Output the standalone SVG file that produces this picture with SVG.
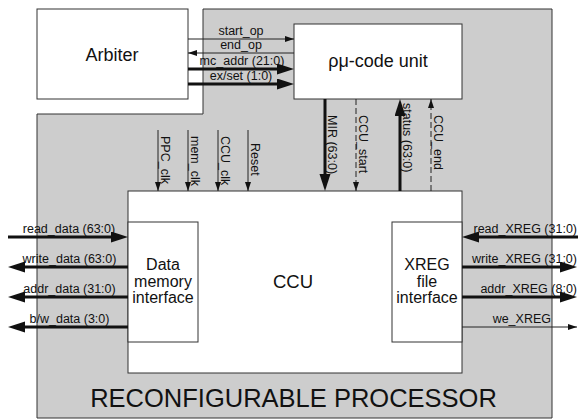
<svg xmlns="http://www.w3.org/2000/svg" width="578" height="419" viewBox="0 0 578 419">
<style>
text{font-family:"Liberation Sans",Arial,sans-serif;fill:#111}
.lbl{font-size:12.5px}
.box{fill:#fff;stroke:#333;stroke-width:1}
.thin{stroke:#222;stroke-width:1;fill:none}
.thick{stroke:#111;stroke-width:3;fill:none}
.dash{stroke:#222;stroke-width:1;fill:none;stroke-dasharray:6 3}
.big{font-size:18px}
.mid{font-size:16px}
</style>
<defs>
<marker id="bh" markerUnits="userSpaceOnUse" markerWidth="17" markerHeight="12" refX="10" refY="5.5" orient="auto"><path d="M0,0 L17,5.5 L0,11 z" fill="#111"/></marker>
<marker id="sh" markerUnits="userSpaceOnUse" markerWidth="10" markerHeight="7" refX="9" refY="3" orient="auto"><path d="M0,0 L9,3 L0,6 z" fill="#111"/></marker>
</defs>
<g id="processor">
<polygon points="203,9 552,9 552,418 37,418 37,114 203,114" fill="#cdcdcd" stroke="#333" stroke-width="1"/>
<text x="293.5" y="407" text-anchor="middle" font-size="25.5">RECONFIGURABLE PROCESSOR</text>
</g>
<g id="arbiter">
<rect class="box" x="37" y="9" width="151" height="90"/>
<text class="big" x="112" y="61" text-anchor="middle">Arbiter</text>
</g>
<g id="rmu">
<rect class="box" x="294" y="24" width="168" height="75"/>
<text class="big" x="378" y="67" text-anchor="middle">ρμ-code unit</text>
</g>
<g id="ccu">
<rect class="box" x="128" y="191" width="334" height="182"/>
<text x="293" y="288" text-anchor="middle" font-size="18.5">CCU</text>
</g>
<g id="dmi">
<rect class="box" x="128" y="222" width="70" height="120"/>
<text class="mid" x="163" y="270" text-anchor="middle">Data</text>
<text class="mid" x="163" y="287" text-anchor="middle">memory</text>
<text class="mid" x="163" y="303" text-anchor="middle">interface</text>
</g>
<g id="xreg">
<rect class="box" x="392" y="222" width="70" height="120"/>
<text class="mid" x="427" y="270" text-anchor="middle">XREG</text>
<text class="mid" x="427" y="287" text-anchor="middle">file</text>
<text class="mid" x="427" y="303" text-anchor="middle">interface</text>
</g>
<g id="connectors">
<line class="thin" x1="188" y1="39" x2="294" y2="39" marker-end="url(#sh)"/>
<line class="thin" x1="294" y1="53" x2="188" y2="53" marker-end="url(#sh)"/>
<line class="thick" x1="188" y1="69" x2="287" y2="69" marker-end="url(#bh)"/>
<line class="thick" x1="188" y1="84" x2="287" y2="84" marker-end="url(#bh)"/>
<line class="thick" x1="325" y1="99" x2="325" y2="184" marker-end="url(#bh)"/>
<line class="dash" x1="356" y1="99" x2="356" y2="191" marker-end="url(#sh)"/>
<line class="thick" x1="400" y1="191" x2="400" y2="106" marker-end="url(#bh)"/>
<line class="dash" x1="431" y1="191" x2="431" y2="99" marker-end="url(#sh)"/>
<line class="thin" x1="158" y1="130" x2="158" y2="191" marker-end="url(#sh)"/>
<line class="thin" x1="188" y1="130" x2="188" y2="191" marker-end="url(#sh)"/>
<line class="thin" x1="218" y1="130" x2="218" y2="191" marker-end="url(#sh)"/>
<line class="thin" x1="248" y1="130" x2="248" y2="191" marker-end="url(#sh)"/>
<line class="thick" x1="8" y1="237" x2="121" y2="237" marker-end="url(#bh)"/>
<line class="thick" x1="128" y1="267" x2="15" y2="267" marker-end="url(#bh)"/>
<line class="thick" x1="128" y1="297" x2="15" y2="297" marker-end="url(#bh)"/>
<line class="thick" x1="128" y1="327" x2="15" y2="327" marker-end="url(#bh)"/>
<line class="thick" x1="578" y1="237" x2="469" y2="237" marker-end="url(#bh)"/>
<line class="thick" x1="462" y1="267" x2="570" y2="267" marker-end="url(#bh)"/>
<line class="thick" x1="462" y1="297" x2="570" y2="297" marker-end="url(#bh)"/>
<line class="thin" x1="462" y1="327" x2="577" y2="327" marker-end="url(#sh)"/>
<text class="lbl" x="241" y="34.5" text-anchor="middle">start_op</text>
<text class="lbl" x="241" y="49" text-anchor="middle">end_op</text>
<text class="lbl" x="242" y="65" text-anchor="middle">mc_addr (21:0)</text>
<text class="lbl" x="241" y="80" text-anchor="middle">ex/set (1:0)</text>
<text class="lbl" transform="translate(161,136) rotate(90)">PPC_clk</text>
<text class="lbl" transform="translate(191,136) rotate(90)">mem_clk</text>
<text class="lbl" transform="translate(221,136) rotate(90)">CCU_clk</text>
<text class="lbl" transform="translate(251,143) rotate(90)">Reset</text>
<text class="lbl" transform="translate(328,115) rotate(90)">MIR (63:0)</text>
<text class="lbl" transform="translate(359,115) rotate(90)">CCU_start</text>
<text class="lbl" transform="translate(403,103) rotate(90)">status (63:0)</text>
<text class="lbl" transform="translate(434,115) rotate(90)">CCU_end</text>
<text class="lbl" x="69" y="233" text-anchor="middle">read_data (63:0)</text>
<text class="lbl" x="69.5" y="263" text-anchor="middle">write_data (63:0)</text>
<text class="lbl" x="69.5" y="293" text-anchor="middle">addr_data (31:0)</text>
<text class="lbl" x="69.5" y="323" text-anchor="middle">b/w_data (3:0)</text>
<text class="lbl" x="577" y="233" text-anchor="end">read_XREG (31:0)</text>
<text class="lbl" x="577" y="263" text-anchor="end">write_XREG (31:0)</text>
<text class="lbl" x="577" y="293" text-anchor="end">addr_XREG (8:0)</text>
<text class="lbl" x="551" y="323" text-anchor="end">we_XREG</text>
</g>
</svg>
